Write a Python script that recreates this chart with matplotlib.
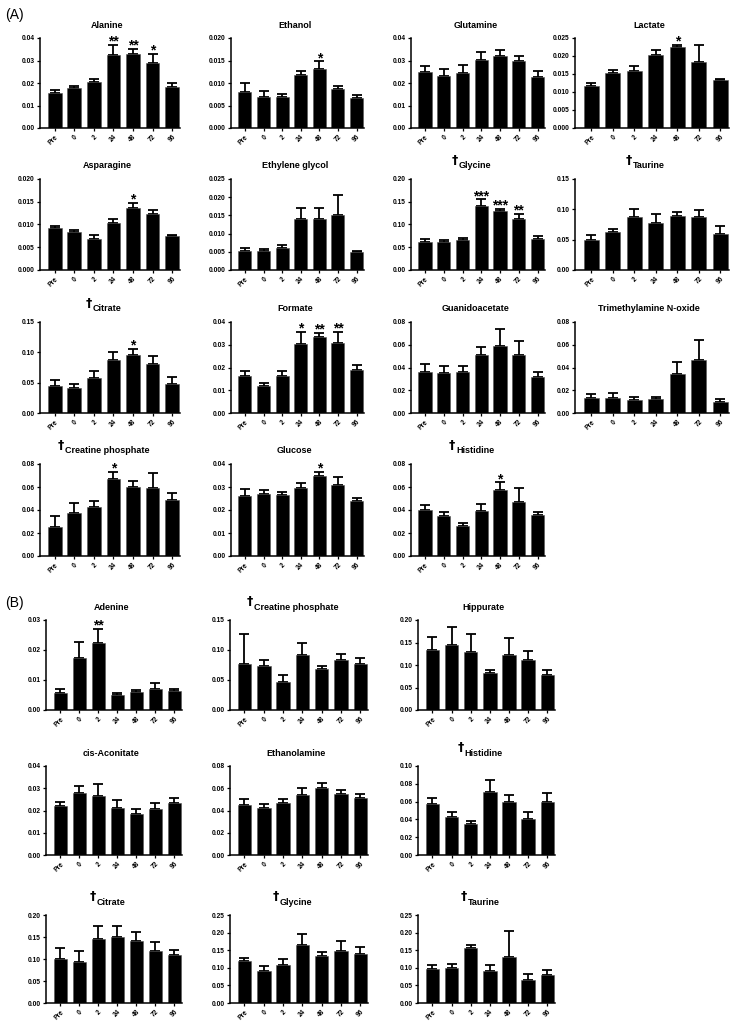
import numpy as np
import matplotlib
matplotlib.use("Agg")
import matplotlib.pyplot as plt

W, H = 743, 1028

times = ["Pre", "0", "2", "24", "48", "72", "96"]

# ---- section (A) ----
a_names = ["Alanine", "Ethanol", "Glutamine", "Lactate",
           "Asparagine", "Ethylene glycol", "Glycine", "Taurine",
           "Citrate", "Formate", "Guanidoacetate", "Trimethylamine N-oxide",
           "Creatine phosphate", "Glucose", "Histidine"]
a_dagger = [False, False, False, False,
            False, False, True, True,
            True, False, False, False,
            True, False, True]
a_means = [
    [0.0155, 0.0178, 0.0204, 0.0323, 0.0330, 0.0288, 0.0184],
    [0.0080, 0.0068, 0.0068, 0.0118, 0.0132, 0.0086, 0.0066],
    [0.0248, 0.0232, 0.0246, 0.0304, 0.0318, 0.0298, 0.0225],
    [0.0118, 0.0153, 0.0158, 0.0203, 0.0226, 0.0182, 0.0132],
    [0.0092, 0.0083, 0.0069, 0.0104, 0.0136, 0.0122, 0.0074],
    [0.0052, 0.0051, 0.0061, 0.0139, 0.0139, 0.0152, 0.0050],
    [0.062, 0.061, 0.066, 0.140, 0.130, 0.113, 0.068],
    [0.050, 0.063, 0.088, 0.077, 0.089, 0.087, 0.060],
    [0.045, 0.041, 0.057, 0.088, 0.095, 0.081, 0.047],
    [0.0162, 0.0118, 0.0163, 0.0302, 0.0333, 0.0306, 0.0190],
    [0.036, 0.035, 0.036, 0.051, 0.059, 0.051, 0.032],
    [0.013, 0.013, 0.011, 0.012, 0.034, 0.047, 0.010],
    [0.025, 0.037, 0.043, 0.067, 0.060, 0.059, 0.049],
    [0.0260, 0.0270, 0.0267, 0.0294, 0.0350, 0.0310, 0.0240],
    [0.040, 0.035, 0.026, 0.039, 0.057, 0.047, 0.036],
]
a_errs = [
    [0.0013, 0.0010, 0.0016, 0.0045, 0.0020, 0.0040, 0.0014],
    [0.0020, 0.0014, 0.0008, 0.0008, 0.0016, 0.0008, 0.0008],
    [0.0028, 0.0032, 0.0036, 0.0033, 0.0028, 0.0022, 0.0030],
    [0.0007, 0.0008, 0.0014, 0.0015, 0.0005, 0.0048, 0.0005],
    [0.0004, 0.0006, 0.0008, 0.0008, 0.0012, 0.0010, 0.0002],
    [0.0009, 0.0006, 0.0009, 0.0031, 0.0032, 0.0053, 0.0003],
    [0.006, 0.004, 0.004, 0.015, 0.005, 0.011, 0.006],
    [0.007, 0.004, 0.012, 0.016, 0.007, 0.012, 0.012],
    [0.009, 0.007, 0.012, 0.013, 0.010, 0.013, 0.012],
    [0.0021, 0.0012, 0.0023, 0.0053, 0.0020, 0.0049, 0.0023],
    [0.007, 0.006, 0.005, 0.007, 0.015, 0.012, 0.004],
    [0.004, 0.005, 0.003, 0.002, 0.011, 0.017, 0.002],
    [0.010, 0.009, 0.005, 0.006, 0.005, 0.013, 0.006],
    [0.0030, 0.0017, 0.0012, 0.0024, 0.0015, 0.0033, 0.0012],
    [0.004, 0.003, 0.003, 0.006, 0.007, 0.012, 0.002],
]
a_ymax = [0.04, 0.020, 0.04, 0.025, 0.020, 0.025, 0.20, 0.15,
          0.15, 0.04, 0.08, 0.08, 0.08, 0.04, 0.08]
a_ystep = [0.01, 0.005, 0.01, 0.005, 0.005, 0.005, 0.05, 0.05,
           0.05, 0.01, 0.02, 0.02, 0.02, 0.01, 0.02]
a_stars = [
    ["", "", "", "**", "**", "*", ""],
    ["", "", "", "", "*", "", ""],
    [""] * 7,
    ["", "", "", "", "*", "", ""],
    ["", "", "", "", "*", "", ""],
    [""] * 7,
    ["", "", "", "***", "***", "**", ""],
    [""] * 7,
    ["", "", "", "", "*", "", ""],
    ["", "", "", "*", "**", "**", ""],
    [""] * 7,
    [""] * 7,
    ["", "", "", "*", "", "", ""],
    ["", "", "", "", "*", "", ""],
    ["", "", "", "", "*", "", ""],
]

# ---- section (B) ----
b_names = ["Adenine", "Creatine phosphate", "Hippurate",
           "cis-Aconitate", "Ethanolamine", "Histidine",
           "Citrate", "Glycine", "Taurine"]
b_dagger = [False, True, False, False, False, True, True, True, True]
b_means = [
    [0.0058, 0.0173, 0.0224, 0.0050, 0.0059, 0.0071, 0.0062],
    [0.077, 0.073, 0.047, 0.091, 0.068, 0.083, 0.077],
    [0.133, 0.144, 0.130, 0.082, 0.123, 0.112, 0.078],
    [0.0220, 0.0280, 0.0263, 0.0211, 0.0185, 0.0207, 0.0232],
    [0.045, 0.042, 0.047, 0.054, 0.060, 0.055, 0.051],
    [0.057, 0.043, 0.035, 0.071, 0.060, 0.041, 0.059],
    [0.101, 0.093, 0.146, 0.149, 0.141, 0.119, 0.108],
    [0.118, 0.091, 0.109, 0.166, 0.134, 0.149, 0.139],
    [0.096, 0.099, 0.155, 0.090, 0.130, 0.066, 0.079],
]
b_errs = [
    [0.0013, 0.0053, 0.0046, 0.0007, 0.0008, 0.0018, 0.0009],
    [0.049, 0.011, 0.011, 0.020, 0.006, 0.011, 0.009],
    [0.030, 0.041, 0.038, 0.006, 0.036, 0.020, 0.010],
    [0.0018, 0.0030, 0.0054, 0.0034, 0.0020, 0.0025, 0.0023],
    [0.005, 0.004, 0.003, 0.006, 0.005, 0.003, 0.004],
    [0.007, 0.005, 0.003, 0.013, 0.007, 0.007, 0.011],
    [0.025, 0.026, 0.029, 0.027, 0.020, 0.020, 0.012],
    [0.009, 0.013, 0.016, 0.029, 0.011, 0.026, 0.019],
    [0.013, 0.013, 0.009, 0.017, 0.075, 0.016, 0.015],
]
b_ymax = [0.03, 0.15, 0.20, 0.04, 0.08, 0.10, 0.20, 0.25, 0.25]
b_ystep = [0.01, 0.05, 0.05, 0.01, 0.02, 0.02, 0.05, 0.05, 0.05]
b_stars = [["", "", "**", "", "", "", ""]] + [[""] * 7] * 8

# axes boxes in pixels (left, right) and (top, bottom)
a_cols = [(40, 180), (231, 364), (411, 545), (575, 729)]
a_rows = [(38, 128), (179, 270), (322, 413), (464, 556)]
b_cols = [(46, 182), (230, 368), (418, 555)]
b_rows = [(620, 710), (766, 855), (915, 1003)]

FONT_A = ["Liberation Sans", "DejaVu Sans"]
FONT_B = ["Liberation Sans Narrow", "Liberation Sans", "DejaVu Sans"]

fig = plt.figure(figsize=(W / 100, H / 100), dpi=100)
renderer = fig.canvas.get_renderer()


def make_ax(col, row):
    l, r = col
    t, b = row
    return fig.add_axes([l / W, 1 - b / H, (r - l) / W, (b - t) / H])


def draw_panel(ax, name, mean, err, ymax, ystep, stars, dagger, family):
    x = np.arange(len(times))
    mean = np.asarray(mean)
    err = np.asarray(err)
    ax.bar(x, mean, width=0.7, color="black", edgecolor="#555555", linewidth=0.4, zorder=2)
    ax.errorbar(x, mean, yerr=[np.zeros_like(err), err], fmt="none", ecolor="black",
                elinewidth=1.3, capsize=3.4, capthick=1.3, zorder=1)
    for xi, m, e, s in zip(x, mean, err, stars):
        if s:
            ax.text(xi, m + e - ymax * 0.04, s, ha="center", va="bottom",
                    fontsize=10, fontweight="bold", family=family)

    ax.set_xlim(-0.75, 6.4)
    ax.set_ylim(0, ymax)
    dec = max(2, len(f"{ystep:.3f}".rstrip("0").split(".")[1]))
    ticks = np.arange(0, ymax + ystep / 2, ystep)
    ax.set_yticks(ticks)
    ax.set_yticklabels([f"{t:.{dec}f}" for t in ticks], fontsize=4.8,
                       fontweight="bold", family=family)
    ax.set_xticks(x)
    ax.set_xticklabels(times, rotation=45, ha="right", rotation_mode="anchor",
                       fontsize=4.8, fontweight="bold", family=family)
    for side in ("top", "right"):
        ax.spines[side].set_visible(False)
    for side in ("left", "bottom"):
        ax.spines[side].set_linewidth(1.1)
    ax.tick_params(direction="out", length=2.5, width=0.9, pad=1.5)
    ax.set_facecolor("none")

    t = ax.text(0.48, 1.0 + 13 / 90, name, transform=ax.transAxes, ha="center",
                va="center", fontsize=6.5, fontweight="bold", family=family)
    if dagger:
        bb = t.get_window_extent(renderer).transformed(fig.transFigure.inverted())
        fig.text(bb.x0 - 1 / W, bb.y1 + 1 / H, "\u2020", ha="right", va="center",
                 fontsize=9, fontweight="bold", family=["DejaVu Sans"])


for i, name in enumerate(a_names):
    ax = make_ax(a_cols[i % 4], a_rows[i // 4])
    draw_panel(ax, name, a_means[i], a_errs[i], a_ymax[i], a_ystep[i],
               a_stars[i], a_dagger[i], FONT_A)

for i, name in enumerate(b_names):
    ax = make_ax(b_cols[i % 3], b_rows[i // 3])
    draw_panel(ax, name, b_means[i], b_errs[i], b_ymax[i], b_ystep[i],
               b_stars[i], b_dagger[i], FONT_B)

fig.text(5 / W, 1 - 15 / H, "(A)", ha="left", va="center", fontsize=10, family=FONT_A)
fig.text(5 / W, 1 - 603 / H, "(B)", ha="left", va="center", fontsize=10, family=FONT_A)

fig.savefig("out.png", dpi=100, facecolor="white")
